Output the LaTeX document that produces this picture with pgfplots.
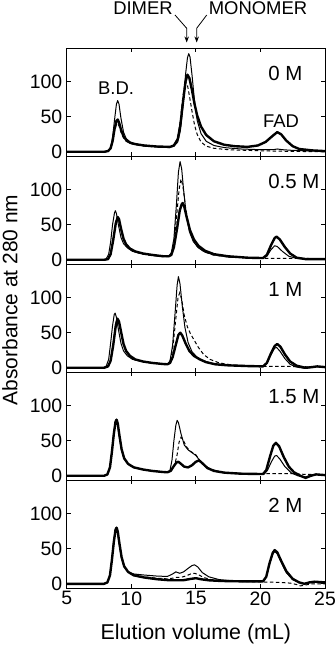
\documentclass[border=0pt]{standalone}
\usepackage{fontspec}
\setmainfont{Liberation Sans}
\usepackage{pgfplots}
\pgfplotsset{compat=1.18}
\usetikzlibrary{arrows.meta}
\pgfplotsset{
  panel/.style={scale only axis, width=258.3bp, height=108bp,
    xmin=5, xmax=25, ymin=-6, ymax=148,
    xtick={5,10,15,20,25}, ytick={0,50,100},
    tick align=inside, major tick length=4bp, tick pos=both,
    axis line style={line width=0.8bp},
    every tick/.style={black, line width=0.8bp},
    anchor=north west,
    tick label style={font=\fontsize{19.5}{19.5}\selectfont},
    /pgf/number format/assume math mode=true,
    yticklabel style={xshift=-1bp},
    clip=true}
}
\tikzset{
  thinc/.style={black, line width=1.0bp, line join=round},
  thickc/.style={black, line width=2.4bp, line join=round},
  dashc/.style={black, line width=1.0bp, dash pattern=on 3.5bp off 2.5bp},
  plab/.style={anchor=west, font=\fontsize{20.5}{20.5}\selectfont},
  ann/.style={font=\fontsize{18.5}{18.5}\selectfont}
}
\begin{document}
\begin{tikzpicture}
\path[use as bounding box] (0,0) rectangle (335bp,-646bp);
% ---------- 0 M ----------
\begin{axis}[panel, at={(66.7bp,-48bp)}, xticklabels={}]
\addplot[dashc] coordinates {(5,0) (7.9,0) (8.2,1) (8.4,5) (8.55,14) (8.7,30) (8.85,39) (8.95,40) (9.05,37) (9.2,28) (9.4,20) (9.6,15) (9.9,12) (10.3,10) (11,8) (12,7) (13,6) (13.3,8) (13.6,20) (13.8,45) (14.0,80) (14.2,100) (14.35,95) (14.5,80) (14.7,58) (14.9,38) (15.1,25) (15.4,14) (15.8,8) (16.4,5) (17.5,3) (19,2) (21,1) (23,0.5) (25,0)};
\addplot[thinc] coordinates {(5,0) (7.9,0) (8.2,1) (8.4,6) (8.55,20) (8.7,45) (8.85,68) (8.95,73) (9.05,68) (9.2,48) (9.4,28) (9.6,19) (9.9,14) (10.3,11) (11,9) (12,7.5) (13,7) (13.3,8) (13.6,14) (13.8,30) (14.0,65) (14.2,110) (14.35,134) (14.45,140) (14.55,135) (14.7,110) (14.9,72) (15.1,45) (15.4,26) (15.8,15) (16.4,9) (17.2,6) (18.5,4) (20,3) (21,3) (21.3,4) (21.7,3) (22.5,2) (23.5,1.5) (25,1)};
\addplot[thickc] coordinates {(5,0) (7.9,0) (8.2,1) (8.4,5) (8.55,15) (8.7,32) (8.85,44) (8.95,46) (9.05,42) (9.2,32) (9.4,22) (9.6,17) (9.9,13) (10.3,11) (11,9) (12,7.5) (13,7) (13.3,9) (13.6,18) (13.8,38) (14.0,70) (14.2,100) (14.35,110) (14.5,105) (14.7,88) (14.9,68) (15.1,52) (15.4,36) (15.8,24) (16.4,15) (17.2,10) (18,8) (19,7) (19.8,9) (20.4,14) (20.9,22) (21.3,28) (21.6,25) (22,16) (22.5,8) (23,4) (23.5,3) (24,2) (25,1)};
\node[plab] at (rel axis cs:0.767,0.768) {0 M};
\node[ann] at (axis cs:8.82,91) {B.D.};
\node[ann] at (axis cs:21.6,44) {FAD};
\end{axis}
% ---------- 0.5 M ----------
\begin{axis}[panel, at={(66.7bp,-156bp)}, xticklabels={}]
\addplot[dashc] coordinates {(5,0) (7.9,0) (8.2,1) (8.4,8) (8.6,28) (8.8,54) (8.92,60) (9.05,55) (9.2,43) (9.4,29) (9.6,21) (9.9,15) (10.3,11) (10.9,8) (11.6,6) (12.5,4.5) (12.9,4.5) (13.1,8) (13.3,22) (13.5,60) (13.7,100) (13.85,115) (14.0,105) (14.2,75) (14.45,48) (14.75,30) (15.1,19) (15.6,12) (16.3,7) (17.5,4) (19,3) (20.5,2) (22,2) (23.5,2) (25,1)};
\addplot[thinc] coordinates {(5,0) (7.8,0) (8.05,1) (8.25,8) (8.4,25) (8.55,50) (8.7,67) (8.77,70) (8.85,66) (9.0,50) (9.2,32) (9.4,23) (9.7,17) (10.1,12) (10.8,9) (11.6,7) (12.5,5) (12.9,5) (13.1,10) (13.3,30) (13.5,80) (13.65,125) (13.78,140) (13.9,130) (14.05,100) (14.25,65) (14.5,40) (14.8,26) (15.2,17) (15.7,11) (16.4,7) (17.5,4) (19,3) (20.2,2.5) (20.5,5) (20.8,14) (21.1,20) (21.3,19) (21.7,12) (22.2,5) (22.8,2) (23.5,1) (25,1)};
\addplot[thickc] coordinates {(5,0) (7.9,0) (8.2,1) (8.4,8) (8.6,28) (8.8,52) (8.95,61) (9.05,58) (9.2,45) (9.4,30) (9.6,22) (9.9,16) (10.3,12) (10.9,9) (11.6,7) (12.5,5) (12.9,5) (13.1,7) (13.3,18) (13.55,45) (13.75,70) (13.9,79) (13.98,81) (14.1,76) (14.3,60) (14.55,42) (14.85,29) (15.2,20) (15.7,13) (16.4,8) (17.5,5) (19,3) (20.2,2.5) (20.5,7) (20.8,20) (21.1,31) (21.25,33) (21.5,29) (21.9,18) (22.3,9) (22.8,3) (23.5,1) (25,1)};
\node[plab] at (rel axis cs:0.767,0.768) {0.5 M};
\end{axis}
% ---------- 1 M ----------
\begin{axis}[panel, at={(66.7bp,-264bp)}, xticklabels={}]
\addplot[dashc] coordinates {(5,0) (7.9,0) (8.2,2) (8.4,10) (8.6,32) (8.78,62) (8.9,70) (9.02,65) (9.2,50) (9.4,33) (9.6,23) (9.9,16) (10.3,12) (10.9,9) (11.6,7) (12.4,5.5) (12.8,5) (13.0,9) (13.2,25) (13.45,70) (13.62,100) (13.75,107) (13.9,98) (14.1,75) (14.35,58) (14.6,48) (14.85,40) (15.2,29) (15.6,19) (16.1,12) (16.8,7) (17.8,4) (19,3) (20.5,2) (22,2) (23.5,1.5) (25,1)};
\addplot[thinc] coordinates {(5,0) (7.8,0) (8.05,2) (8.25,12) (8.4,35) (8.55,60) (8.68,76) (8.75,78) (8.85,72) (9.0,55) (9.2,35) (9.4,24) (9.7,17) (10.1,12) (10.8,9) (11.6,7) (12.4,5.5) (12.8,5) (13.0,10) (13.2,32) (13.4,80) (13.55,118) (13.65,130) (13.77,120) (13.95,88) (14.15,58) (14.4,36) (14.7,23) (15.1,15) (15.6,10) (16.3,6) (17.5,3.5) (19,2.5) (20.2,2) (20.5,6) (20.8,18) (21.1,28) (21.25,29) (21.5,24) (21.9,13) (22.3,5) (22.8,1) (23.5,-1) (24,1) (24.4,2) (25,1)};
\addplot[thickc] coordinates {(5,0) (7.9,0) (8.2,2) (8.4,10) (8.6,32) (8.8,60) (8.93,70) (9.05,66) (9.2,52) (9.4,34) (9.6,24) (9.9,17) (10.3,12) (10.9,9) (11.6,7) (12.4,5.5) (12.8,5) (13.0,7) (13.2,15) (13.45,33) (13.65,47) (13.8,50) (13.95,46) (14.2,35) (14.5,24) (14.85,17) (15.3,12) (15.8,8) (16.5,5) (17.5,3.5) (19,2.5) (20.2,2) (20.5,7) (20.8,20) (21.1,31) (21.3,34) (21.55,30) (21.9,19) (22.3,9) (22.8,3) (23.5,0) (24,1) (24.4,2) (25,1)};
\node[plab] at (rel axis cs:0.767,0.768) {1 M};
\end{axis}
% ---------- 1.5 M ----------
\begin{axis}[panel, at={(66.7bp,-372bp)}, xticklabels={}]
\addplot[dashc] coordinates {(5,0) (7.9,0) (8.15,2) (8.35,12) (8.5,34) (8.65,61) (8.78,78) (8.85,80) (8.95,75) (9.08,57) (9.25,37) (9.45,25) (9.75,17) (10.2,12) (10.9,9) (11.6,7) (12.4,5.5) (12.8,5) (13.1,7) (13.35,15) (13.55,30) (13.7,48) (13.85,55) (14.0,52) (14.25,42) (14.5,36) (14.75,33) (15.0,30) (15.3,22) (15.7,14) (16.2,9) (17,5) (18,3.5) (19.5,3) (21,3) (22.5,3) (23.5,2) (25,1.5)};
\addplot[thinc] coordinates {(5,0) (7.9,0) (8.15,2) (8.35,12) (8.5,35) (8.65,62) (8.77,78) (8.83,80) (8.92,75) (9.05,58) (9.25,36) (9.45,24) (9.75,17) (10.2,12) (10.9,9) (11.6,7) (12.4,5.5) (12.8,5) (13.0,8) (13.15,22) (13.3,50) (13.45,72) (13.55,79) (13.65,76) (13.85,60) (14.1,44) (14.4,37) (14.7,33) (15.0,29) (15.3,22) (15.7,14) (16.2,9) (17,5) (18,3.5) (19.5,2.5) (20.3,2.5) (20.55,8) (20.85,20) (21.1,28) (21.25,29) (21.5,24) (21.9,13) (22.4,4) (22.9,0) (23.4,-2) (23.8,0) (24.3,2) (25,1.5)};
\addplot[thickc] coordinates {(5,0) (7.9,0) (8.15,2) (8.35,12) (8.5,34) (8.65,60) (8.78,77) (8.86,80) (8.95,75) (9.08,58) (9.25,38) (9.45,25) (9.75,17) (10.2,12) (10.9,9) (11.6,7) (12.4,5.5) (12.8,5) (13.05,7) (13.3,14) (13.5,19) (13.65,20) (13.85,17) (14.1,13) (14.4,12) (14.7,15) (15.0,20) (15.25,22) (15.5,18) (15.9,11) (16.4,7) (17.2,4.5) (18.5,3) (20.2,2.5) (20.45,8) (20.75,28) (21.0,43) (21.2,47) (21.45,42) (21.8,27) (22.2,13) (22.6,5) (23.1,0) (23.5,-3) (23.9,0) (24.3,2) (25,1)};
\node[plab] at (rel axis cs:0.767,0.768) {1.5 M};
\end{axis}
% ---------- 2 M ----------
\begin{axis}[panel, at={(66.7bp,-480bp)}]
\addplot[dashc] coordinates {(5,0) (7.9,0) (8.15,2) (8.35,12) (8.5,34) (8.65,61) (8.78,78) (8.85,80) (8.95,75) (9.08,57) (9.25,37) (9.45,25) (9.75,17) (10.2,13) (11,10) (12,8) (12.8,7) (13.2,8) (13.45,9) (13.8,9) (14.2,11) (14.6,14) (14.9,15) (15.2,13) (15.6,9) (16.2,6) (17.5,4) (19,3) (20.5,2.5) (21.5,2) (22.3,1) (22.8,-1) (23.1,-3) (23.4,-2) (24,0) (25,0)};
\addplot[thinc] coordinates {(5,0) (7.9,0) (8.15,2) (8.35,12) (8.5,35) (8.65,62) (8.77,78) (8.83,80) (8.92,75) (9.05,58) (9.25,36) (9.45,24) (9.75,17) (10.2,14) (11,12.5) (12,11) (12.8,10.5) (13.2,14) (13.45,17) (13.75,15) (14.05,17) (14.4,22) (14.7,26) (14.9,27) (15.15,24) (15.5,16) (16,10) (16.8,6) (18,4) (19.5,3.5) (20.2,3.5) (20.45,10) (20.7,28) (20.95,42) (21.1,46) (21.3,43) (21.6,31) (22,16) (22.5,6) (23,2) (23.4,0) (23.8,2) (24.2,3) (25,2)};
\addplot[thickc] coordinates {(5,0) (7.9,0) (8.15,2) (8.35,12) (8.5,34) (8.65,60) (8.78,77) (8.86,80) (8.95,75) (9.08,58) (9.25,38) (9.45,25) (9.75,17) (10.2,12) (11,9) (12,6.5) (13,5) (14,5) (14.6,7) (15.0,8) (15.4,6.5) (16,5) (17,4) (18.5,3.5) (20.2,3.5) (20.45,10) (20.7,29) (20.95,44) (21.1,48) (21.3,45) (21.6,33) (22,18) (22.5,7) (23,2) (23.4,0) (23.8,2) (24.2,3) (25,2)};
\node[plab] at (rel axis cs:0.767,0.768) {2 M};
\end{axis}
% ---------- labels ----------
\node[rotate=90, font=\fontsize{21}{21}\selectfont] at (10bp,-300bp) {Absorbance at 280 nm};
\node[font=\fontsize{21.5}{21.5}\selectfont] at (195.9bp,-634bp) {Elution volume (mL)};
\node[ann] at (143bp,-8bp) {DIMER};
\node[ann] at (258bp,-8bp) {MONOMER};
\draw[line width=0.8bp, -{Stealth[length=6bp,width=4.5bp]}] (175bp,-15bp) -- (186.7bp,-28.3bp) -- (186.7bp,-42.5bp);
\draw[line width=0.8bp, -{Stealth[length=6bp,width=4.5bp]}] (206.7bp,-15bp) -- (196.7bp,-28.3bp) -- (196.7bp,-42.5bp);
\end{tikzpicture}
\end{document}
